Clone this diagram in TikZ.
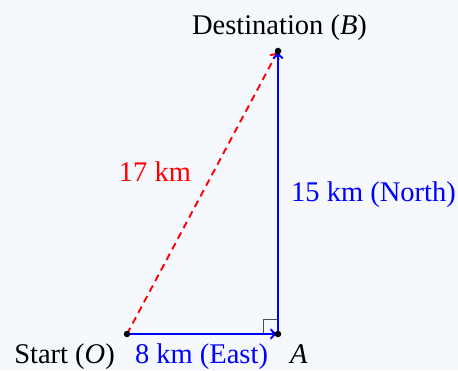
\documentclass[tikz,border=0pt]{standalone}
\usepackage{fontspec}
\setmainfont{Liberation Serif}
\usetikzlibrary{arrows.meta}
\definecolor{bgc}{RGB}{245,248,253}
\begin{document}
\begin{tikzpicture}[x=1pt,y=1pt,
  font=\fontsize{28.5}{34}\selectfont,
  lbl/.style={inner sep=0pt},
  vec/.style={blue, line width=1.9pt, -{To[length=8pt,width=11pt]}},
  hyp/.style={red, line width=1.9pt, dashed, dash pattern=on 7pt off 5pt, -{To[length=8pt,width=11pt]}},
  dot/.style={circle, fill=black, inner sep=0pt, minimum size=6.5pt}]
\fill[bgc] (0,0) rectangle (458,370);
\useasboundingbox (0,0) rectangle (458,370);
\coordinate (O) at (127,36);
\coordinate (A) at (278,36);
\coordinate (B) at (278,319);
\draw[black!70, line width=0.9pt] (A) ++(-15,0) -- ++(0,15) -- ++(15,0);
\draw[hyp] (O) -- (B);
\draw[vec] (O) -- (A);
\draw[vec] (A) -- (B);
\node[dot] (Od) at (O) {};
\node[dot] (Ad) at (A) {};
\node[dot] (Bd) at (B) {};
\node[lbl, anchor=base] (tB) at (279.5,335) {Destination (\textit{B})};
\node[lbl, anchor=base east] (tO) at (115,7) {Start (\textit{O})};
\node[lbl, anchor=base, blue] (tOA) at (201.5,7) {8 km (East)};
\node[lbl, anchor=base west] (tA) at (290,7) {\textit{A}};
\node[lbl, anchor=base, red] (tOB) at (155,188) {17 km};
\node[lbl, anchor=base west, blue] (tAB) at (291,168) {15 km (North)};
\end{tikzpicture}
\end{document}
